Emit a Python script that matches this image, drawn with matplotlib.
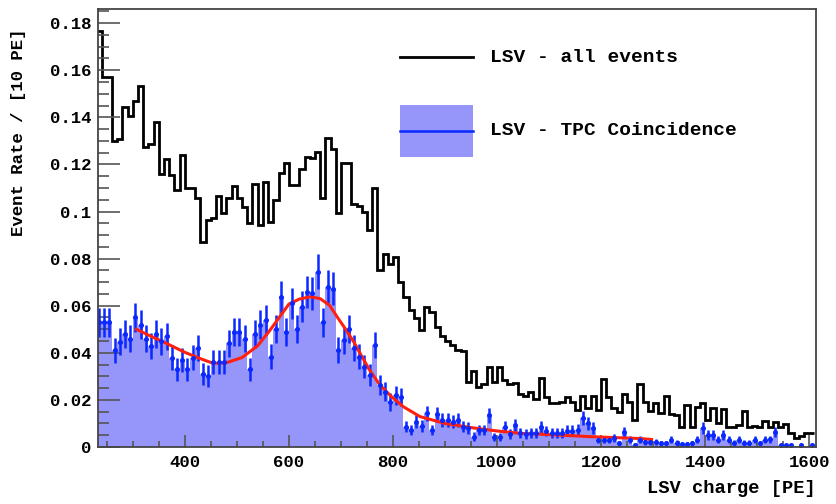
import numpy as np
import matplotlib
matplotlib.use("Agg")
import matplotlib.pyplot as plt
from matplotlib.patches import Rectangle
from matplotlib.lines import Line2D

# bin edges: 10 PE bins
bin_lo = 230
bin_hi = 1610

# LSV - all events (black histogram), one value per 10 PE bin from 230 PE
all_events = [
    0.1766, 0.157, 0.157, 0.1301, 0.131, 0.1442, 0.1404, 0.1468, 0.1534, 0.1273,
    0.1287, 0.1379, 0.116, 0.1223, 0.1153, 0.1093, 0.1238, 0.110, 0.110, 0.1057,
    0.0872, 0.0963, 0.0972, 0.1067, 0.0995, 0.1058, 0.1108, 0.1058, 0.102, 0.0951,
    0.1119, 0.0942, 0.1125, 0.0956, 0.1048, 0.1164, 0.1204, 0.1112, 0.1112, 0.1179,
    0.1232, 0.1229, 0.1253, 0.1059, 0.1314, 0.1267, 0.0994, 0.1206, 0.1206, 0.1034,
    0.1022, 0.0998, 0.0923, 0.1102, 0.0751, 0.0819, 0.0779, 0.0807, 0.0701, 0.0638,
    0.0581, 0.0546, 0.0496, 0.0593, 0.0574, 0.0508, 0.0471, 0.0451, 0.0432, 0.0412,
    0.0409, 0.0277, 0.0324, 0.0256, 0.0267, 0.0341, 0.0277, 0.0341, 0.0285, 0.0267,
    0.0273, 0.0227, 0.0216, 0.0235, 0.0203, 0.0291, 0.0211, 0.0185, 0.0185, 0.0192,
    0.0214, 0.0190, 0.0157, 0.0216, 0.0164, 0.0216, 0.0157, 0.0290, 0.0211, 0.0164,
    0.0150, 0.0227, 0.0190, 0.0115, 0.0267, 0.0192, 0.0153, 0.0185, 0.0145, 0.0216,
    0.0140, 0.0136, 0.0084, 0.0178, 0.0084, 0.0171, 0.0188, 0.0114, 0.0164, 0.0101,
    0.0161, 0.0084, 0.0084, 0.0094, 0.0153, 0.0084, 0.0090, 0.0084, 0.0110, 0.0084,
    0.0108, 0.0086, 0.0097, 0.0061, 0.0037, 0.0047, 0.0061, 0.0061,
]

# LSV - TPC coincidence (blue histogram)
coincidence = [
    0.053, 0.053, 0.053, 0.041, 0.0447, 0.048, 0.046, 0.055, 0.052, 0.046,
    0.043, 0.048, 0.045, 0.047, 0.038, 0.033, 0.037, 0.033, 0.038, 0.042,
    0.031, 0.030, 0.036, 0.036, 0.036, 0.044, 0.049, 0.049, 0.046, 0.033,
    0.048, 0.052, 0.054, 0.0383, 0.050, 0.0638, 0.049, 0.061, 0.050, 0.0595,
    0.0659, 0.0652, 0.0744, 0.053, 0.068, 0.0673, 0.0412, 0.0454, 0.050, 0.0419,
    0.0383, 0.0341, 0.0305, 0.0433, 0.0263, 0.0235, 0.0192, 0.022, 0.0213, 0.0087,
    0.0072, 0.0107, 0.0089, 0.0143, 0.0072, 0.014, 0.0115, 0.0115, 0.0107, 0.0115,
    0.0087, 0.008, 0.0044, 0.0072, 0.0072, 0.0135, 0.0041, 0.0041, 0.0087, 0.0056,
    0.0093, 0.0058, 0.0056, 0.0058, 0.0061, 0.0086, 0.0067, 0.0058, 0.0061, 0.0058,
    0.0070, 0.0069, 0.0073, 0.0122, 0.0101, 0.0080, 0.0030, 0.0030, 0.0030, 0.0037,
    0.0016, 0.0065, 0.0030, 0.0010, 0.0030, 0.0023, 0.0023, 0.0023, 0.0016, 0.0016,
    0.0030, 0.0019, 0.0013, 0.0013, 0.0016, 0.0030, 0.0080, 0.0051, 0.0051, 0.0030,
    0.0051, 0.0030, 0.0019, 0.0030, 0.0019, 0.0019, 0.0030, 0.0016, 0.0030, 0.0033,
    0.0065, 0.0007, 0.0007, 0.0007, 0.0000, 0.0007, 0.0000, 0.0007,
]

# fit curve (red)
fit_x = [307, 330, 360, 400, 430, 455, 480, 510, 540, 565, 600, 620, 641, 660, 678,
         695, 710, 725, 740, 755, 775, 797, 820, 852, 900, 948, 1000, 1044, 1098,
         1178, 1274, 1297]
fit_y = [0.050, 0.0475, 0.0445, 0.0402, 0.0375, 0.0355, 0.0358, 0.038, 0.043, 0.050,
         0.0607, 0.0628, 0.0638, 0.0630, 0.0602, 0.0545, 0.0497, 0.0445, 0.0385, 0.0327,
         0.0263, 0.0214, 0.0171, 0.0129, 0.0100, 0.0083, 0.0068, 0.0058, 0.0053,
         0.0044, 0.0036, 0.0032]

edges = np.arange(bin_lo, bin_hi + 1, 10)
centers = edges[:-1] + 5
all_events = np.array(all_events)
coincidence = np.array(coincidence)
# poisson-like error bars, scaled to the rate
coin_err = 0.027 * np.sqrt(coincidence)

plt.rcParams['font.family'] = ['Liberation Mono', 'DejaVu Sans Mono']
plt.rcParams['font.weight'] = 'bold'

fig = plt.figure(figsize=(8.36, 5.04), dpi=100)
ax = fig.add_axes([0.1172, 0.1131, 0.8588, 0.869])

fill_col = '#9696fa'
blue = '#0a28ff'

ax.stairs(coincidence, edges, fill=True, color=fill_col, lw=0)
ax.stairs(all_events, edges, color='black', lw=2.0, baseline=None)
mask = coincidence > 0
ax.errorbar(centers[mask], coincidence[mask], yerr=coin_err[mask], fmt='o',
            color=blue, ms=2.6, elinewidth=1.8, capsize=0)
ax.plot(fit_x, fit_y, color='#ff2010', lw=2.2)

ax.set_xlim(233, 1613)
ax.set_ylim(0, 0.186)

ax.set_xticks([400, 600, 800, 1000, 1200, 1400, 1600])
ax.set_xticks(np.arange(250, 1613, 50), minor=True)
ax.set_yticks(np.arange(0, 0.181, 0.02))
ax.set_yticklabels(['0', '0.02', '0.04', '0.06', '0.08', '0.1', '0.12', '0.14', '0.16', '0.18'])
ax.set_yticks(np.arange(0, 0.186, 0.005), minor=True)

ax.tick_params(axis='y', which='major', direction='in', length=16, width=1.2,
               color='#555555', labelsize=12.5, pad=5)
ax.tick_params(axis='y', which='minor', direction='in', length=8, width=1.2, color='#555555')
ax.tick_params(axis='x', which='major', direction='in', length=8.5, width=1.2,
               color='#555555', labelsize=12.5, pad=6)
ax.tick_params(axis='x', which='minor', direction='in', length=4.3, width=1.2, color='#555555')
for s in ax.spines.values():
    s.set_color('#444444')
    s.set_linewidth(1.3)

ax.set_ylabel('Event Rate / [10 PE]', fontsize=12.5, fontweight='bold', loc='top')
ax.yaxis.set_label_coords(-0.1, 0.955)
ax.set_xlabel('LSV charge [PE]', fontsize=13.5, fontweight='bold', loc='right')
ax.xaxis.set_label_coords(1.0, -0.075)

# legend drawn by hand
ax.add_line(Line2D([0.4206, 0.5223], [0.8904, 0.8904], transform=ax.transAxes,
                   color='black', lw=2))
ax.text(0.546, 0.8904, 'LSV - all events', transform=ax.transAxes, va='center',
        fontsize=14, fontweight='bold')
ax.add_patch(Rectangle((0.4206, 0.6621), 0.1017, 0.1187, transform=ax.transAxes,
                       facecolor=fill_col, edgecolor='none'))
ax.add_line(Line2D([0.4206, 0.5223], [0.7215, 0.7215], transform=ax.transAxes,
                   color=blue, lw=1.8))
ax.text(0.546, 0.7215, 'LSV - TPC Coincidence', transform=ax.transAxes, va='center',
        fontsize=14, fontweight='bold')

fig.savefig('out.png', dpi=100)
